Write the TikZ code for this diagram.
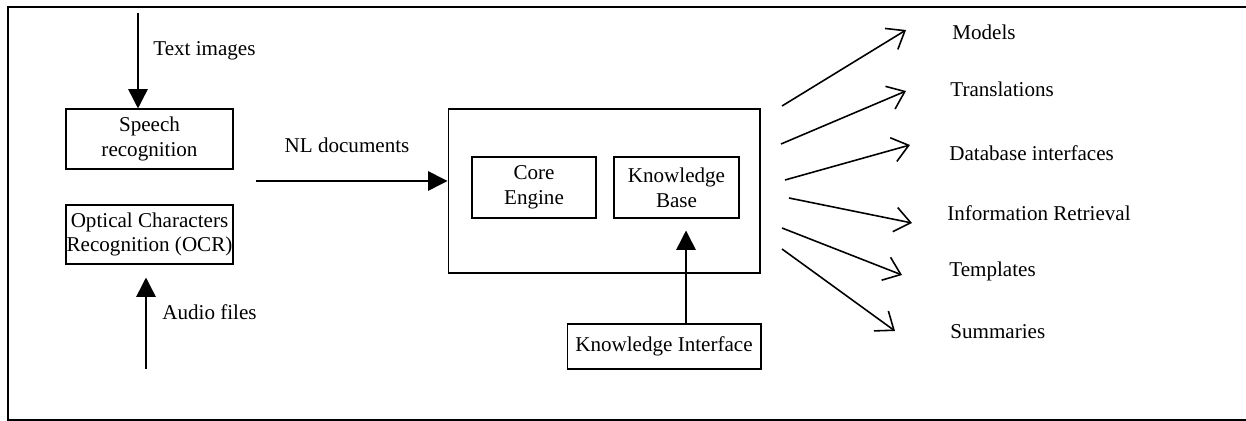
\documentclass[tikz,border=0pt]{standalone}
\usepackage{fontspec}
\setmainfont{Liberation Serif}
\usetikzlibrary{arrows.meta}

\begin{document}
\begin{tikzpicture}[x=0.02cm,y=-0.02cm,
  font=\fontsize{12}{14}\selectfont,
  box/.style={draw,line width=0.6pt,inner sep=0pt,align=center},
  inarrow/.style={line width=0.9pt,-{Triangle[length=11pt,width=11pt]}},
  outarrow/.style={line width=0.9pt,-{Straight Barb[length=9pt,width=14pt,line width=0.9pt]}},
  lbl/.style={anchor=west,inner sep=0pt}]
\useasboundingbox (0,0) rectangle (1246,421);
%% frame
\draw[line width=1.2pt] (1246,7) -| (8,420) -- (1246,420);
%% inputs
\node[box,minimum width=3.34cm,minimum height=1.2cm] (speech) at (149.5,139) {Speech\\recognition};
\node[box,minimum width=3.34cm,minimum height=1.18cm] (ocr) at (149.5,234.5) {Optical Characters\\Recognition (OCR)};
\coordinate (img) at (138,13);
\coordinate (audio) at (146,369);
\draw[inarrow] (img) -- (img |- speech.north);
\draw[inarrow,shorten >=0.26cm] (audio) -- (audio |- ocr.south);
\node[lbl] (imgtext) at (153,51) {Text images};
\node[lbl] (audiotext) at (162,312) {Audio files};
%% system
\node[box,minimum width=6.24cm,minimum height=3.28cm] (system) at (604,191) {};
\node[box,minimum width=2.48cm,minimum height=1.22cm] (core) at (534,187.5) {Core\\Engine};
\node[box,minimum width=2.5cm,minimum height=1.22cm] (kb) at (676.5,187.5) {Knowledge\\Base};
\node[box,minimum width=3.88cm,minimum height=0.9cm] (ki) at (664,346.5) {Knowledge Interface};
\coordinate (nl) at (256,181);
\draw[inarrow] (nl) -- (nl -| system.west);
\node (nltext) at (347,145) {NL documents};
\draw[inarrow,shorten >=0.24cm] (ki.north -| 686,0) -- (kb.south -| 686,0);
%% outputs
\foreach \name/\sx/\sy/\ex/\ey/\lx/\ly/\txt in {
    models/782/106/906/30/952/32/Models,
    trans/781/144/906/91/950/89/Translations,
    dbase/785/180/910/145/949/153/Database interfaces,
    retr/789/198/912/223/947/213/Information Retrieval,
    templ/782/228/902/275/949/271/Templates,
    summ/782/249/895/331/950/332/Summaries}{
  \coordinate (\name-s) at (\sx,\sy);
  \coordinate (\name-e) at (\ex,\ey);
  \draw[outarrow] (\name-s) -- (\name-e);
  \node[lbl] (\name) at (\lx,\ly) {\txt};
}
\end{tikzpicture}
\end{document}
